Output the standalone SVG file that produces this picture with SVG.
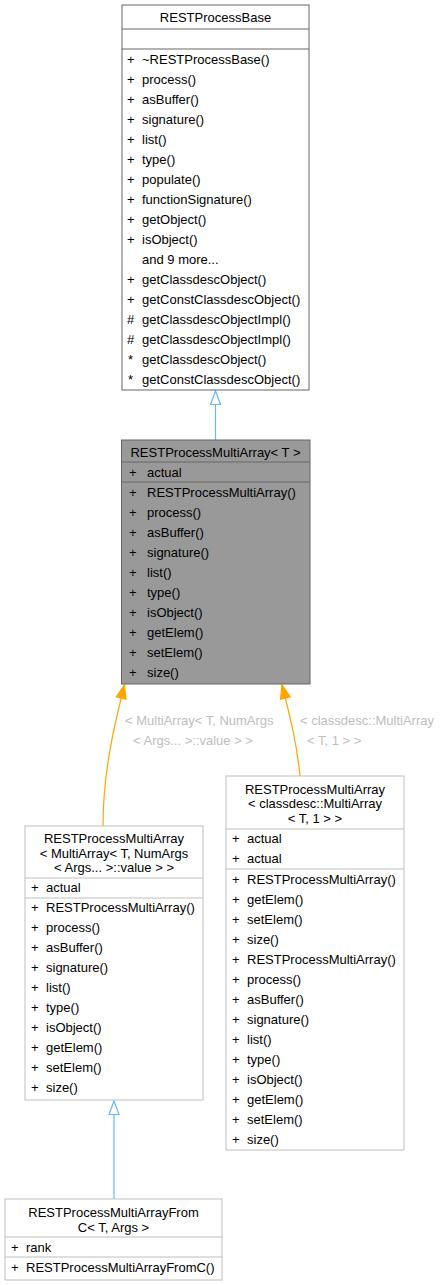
<svg xmlns="http://www.w3.org/2000/svg" width="447" height="1285" viewBox="0 0 447 1285">
<style>
text{font-family:"Liberation Sans",Arial,sans-serif;font-size:13px;fill:#000}
.c{text-anchor:middle}
.lbl{fill:#bebebe}
.dk{fill:#fff;stroke:#666;stroke-width:1}
.hl{fill:#999;stroke:#666;stroke-width:1}
.lt{fill:#fff;stroke:#bfbfbf;stroke-width:1}
.sd{stroke:#666;stroke-width:1}
.sl{stroke:#bfbfbf;stroke-width:1}
.eb{fill:none;stroke:#63b8ff;stroke-width:1.2;marker-end:url(#hollow)}
.eo{fill:none;stroke:#ffa500;stroke-width:1.2;marker-end:url(#filled)}
</style>
<defs>
<marker id="hollow" markerUnits="userSpaceOnUse" markerWidth="16" markerHeight="14" viewBox="0 0 16 14" refX="14.5" refY="7" orient="auto">
<path d="M1,2 L14.5,7 L1,12 Z" fill="#fff" stroke="#63b8ff" stroke-width="1.2"/>
</marker>
<marker id="filled" markerUnits="userSpaceOnUse" markerWidth="16" markerHeight="14" viewBox="0 0 16 14" refX="14.5" refY="7" orient="auto">
<path d="M1,2 L14.5,7 L1,12 Z" fill="#ffa500" stroke="#ffa500" stroke-width="1.2"/>
</marker>
</defs>
<g id="edges">
<path class="eb" d="M215.5,440 L215.5,391"/>
<path class="eo" d="M103,826 C103,775 113,730 124.5,685"/>
<path class="eo" d="M300,776 C297,745 291,720 282,685"/>
<path class="eb" d="M114,1199 L114,1101"/>
<text class="lbl" x="125" y="724.5">&lt; MultiArray&lt; T, NumArgs</text>
<text class="lbl" x="133" y="744.5">&lt; Args... &gt;::value &gt; &gt;</text>
<text class="lbl" x="300" y="724.5">&lt; classdesc::MultiArray</text>
<text class="lbl" x="307" y="744.5">&lt; T, 1 &gt; &gt;</text>
</g>
<g id="RESTProcessBase">
<rect class="dk" x="122" y="5" width="187" height="385"/>
<line class="sd" x1="122" y1="29" x2="309" y2="29"/>
<line class="sd" x1="122" y1="49" x2="309" y2="49"/>
<text class="c" x="215.5" y="21.5">RESTProcessBase</text>
<text x="127" y="63.5">+</text><text x="142" y="63.5">~RESTProcessBase()</text>
<text x="127" y="83.5">+</text><text x="142" y="83.5">process()</text>
<text x="127" y="103.5">+</text><text x="142" y="103.5">asBuffer()</text>
<text x="127" y="123.5">+</text><text x="142" y="123.5">signature()</text>
<text x="127" y="143.5">+</text><text x="142" y="143.5">list()</text>
<text x="127" y="163.5">+</text><text x="142" y="163.5">type()</text>
<text x="127" y="183.5">+</text><text x="142" y="183.5">populate()</text>
<text x="127" y="203.5">+</text><text x="142" y="203.5">functionSignature()</text>
<text x="127" y="223.5">+</text><text x="142" y="223.5">getObject()</text>
<text x="127" y="243.5">+</text><text x="142" y="243.5">isObject()</text>
<text x="142" y="263.5">and 9 more...</text>
<text x="127" y="283.5">+</text><text x="142" y="283.5">getClassdescObject()</text>
<text x="127" y="303.5">+</text><text x="142" y="303.5">getConstClassdescObject()</text>
<text x="127" y="323.5">#</text><text x="142" y="323.5">getClassdescObjectImpl()</text>
<text x="127" y="343.5">#</text><text x="142" y="343.5">getClassdescObjectImpl()</text>
<text x="128" y="363.5">*</text><text x="142" y="363.5">getClassdescObject()</text>
<text x="128" y="383.5">*</text><text x="142" y="383.5">getConstClassdescObject()</text>
</g>
<g id="RESTProcessMultiArray_T">
<rect class="hl" x="121.5" y="440" width="188.5" height="244"/>
<line class="sd" x1="121.5" y1="462" x2="310" y2="462"/>
<line class="sd" x1="121.5" y1="482" x2="310" y2="482"/>
<text class="c" x="215.5" y="456.5">RESTProcessMultiArray&lt; T &gt;</text>
<text x="129" y="476.5">+</text><text x="147" y="476.5">actual</text>
<text x="129" y="496.5">+</text><text x="147" y="496.5">RESTProcessMultiArray()</text>
<text x="129" y="516.5">+</text><text x="147" y="516.5">process()</text>
<text x="129" y="536.5">+</text><text x="147" y="536.5">asBuffer()</text>
<text x="129" y="556.5">+</text><text x="147" y="556.5">signature()</text>
<text x="129" y="576.5">+</text><text x="147" y="576.5">list()</text>
<text x="129" y="596.5">+</text><text x="147" y="596.5">type()</text>
<text x="129" y="616.5">+</text><text x="147" y="616.5">isObject()</text>
<text x="129" y="636.5">+</text><text x="147" y="636.5">getElem()</text>
<text x="129" y="656.5">+</text><text x="147" y="656.5">setElem()</text>
<text x="129" y="676.5">+</text><text x="147" y="676.5">size()</text>
</g>
<g id="RESTProcessMultiArray_MultiArray_NumArgs">
<rect class="lt" x="25" y="826" width="178" height="274"/>
<line class="sl" x1="25" y1="878" x2="203" y2="878"/>
<line class="sl" x1="25" y1="898" x2="203" y2="898"/>
<text class="c" x="114" y="842.5">RESTProcessMultiArray</text>
<text class="c" x="114" y="857.5">&lt; MultiArray&lt; T, NumArgs</text>
<text class="c" x="114" y="872">&lt; Args... &gt;::value &gt; &gt;</text>
<text x="31" y="891.5">+</text><text x="46" y="891.5">actual</text>
<text x="31" y="911.5">+</text><text x="46" y="911.5">RESTProcessMultiArray()</text>
<text x="31" y="931.5">+</text><text x="46" y="931.5">process()</text>
<text x="31" y="951.5">+</text><text x="46" y="951.5">asBuffer()</text>
<text x="31" y="971.5">+</text><text x="46" y="971.5">signature()</text>
<text x="31" y="991.5">+</text><text x="46" y="991.5">list()</text>
<text x="31" y="1011.5">+</text><text x="46" y="1011.5">type()</text>
<text x="31" y="1031.5">+</text><text x="46" y="1031.5">isObject()</text>
<text x="31" y="1051.5">+</text><text x="46" y="1051.5">getElem()</text>
<text x="31" y="1071.5">+</text><text x="46" y="1071.5">setElem()</text>
<text x="31" y="1091.5">+</text><text x="46" y="1091.5">size()</text>
</g>
<g id="RESTProcessMultiArray_classdesc_MultiArray_T_1">
<rect class="lt" x="226" y="776" width="178" height="374"/>
<line class="sl" x1="226" y1="829" x2="404" y2="829"/>
<line class="sl" x1="226" y1="869" x2="404" y2="869"/>
<text class="c" x="315" y="793.5">RESTProcessMultiArray</text>
<text class="c" x="315" y="807.5">&lt; classdesc::MultiArray</text>
<text class="c" x="315" y="822.5">&lt; T, 1 &gt; &gt;</text>
<text x="232" y="842.5">+</text><text x="247" y="842.5">actual</text>
<text x="232" y="862.5">+</text><text x="247" y="862.5">actual</text>
<text x="232" y="883.5">+</text><text x="247" y="883.5">RESTProcessMultiArray()</text>
<text x="232" y="903.5">+</text><text x="247" y="903.5">getElem()</text>
<text x="232" y="923.5">+</text><text x="247" y="923.5">setElem()</text>
<text x="232" y="943.5">+</text><text x="247" y="943.5">size()</text>
<text x="232" y="963.5">+</text><text x="247" y="963.5">RESTProcessMultiArray()</text>
<text x="232" y="983.5">+</text><text x="247" y="983.5">process()</text>
<text x="232" y="1003.5">+</text><text x="247" y="1003.5">asBuffer()</text>
<text x="232" y="1023.5">+</text><text x="247" y="1023.5">signature()</text>
<text x="232" y="1043.5">+</text><text x="247" y="1043.5">list()</text>
<text x="232" y="1063.5">+</text><text x="247" y="1063.5">type()</text>
<text x="232" y="1083.5">+</text><text x="247" y="1083.5">isObject()</text>
<text x="232" y="1103.5">+</text><text x="247" y="1103.5">getElem()</text>
<text x="232" y="1123.5">+</text><text x="247" y="1123.5">setElem()</text>
<text x="232" y="1143.5">+</text><text x="247" y="1143.5">size()</text>
</g>
<g id="RESTProcessMultiArrayFromC">
<rect class="lt" x="5" y="1199" width="217" height="81"/>
<line class="sl" x1="5" y1="1237" x2="222" y2="1237"/>
<line class="sl" x1="5" y1="1257" x2="222" y2="1257"/>
<text class="c" x="113.5" y="1216.5">RESTProcessMultiArrayFrom</text>
<text class="c" x="113.5" y="1231.5">C&lt; T, Args &gt;</text>
<text x="11" y="1251.5">+</text><text x="26" y="1251.5">rank</text>
<text x="11" y="1271.5">+</text><text x="26" y="1271.5">RESTProcessMultiArrayFromC()</text>
</g>
</svg>
